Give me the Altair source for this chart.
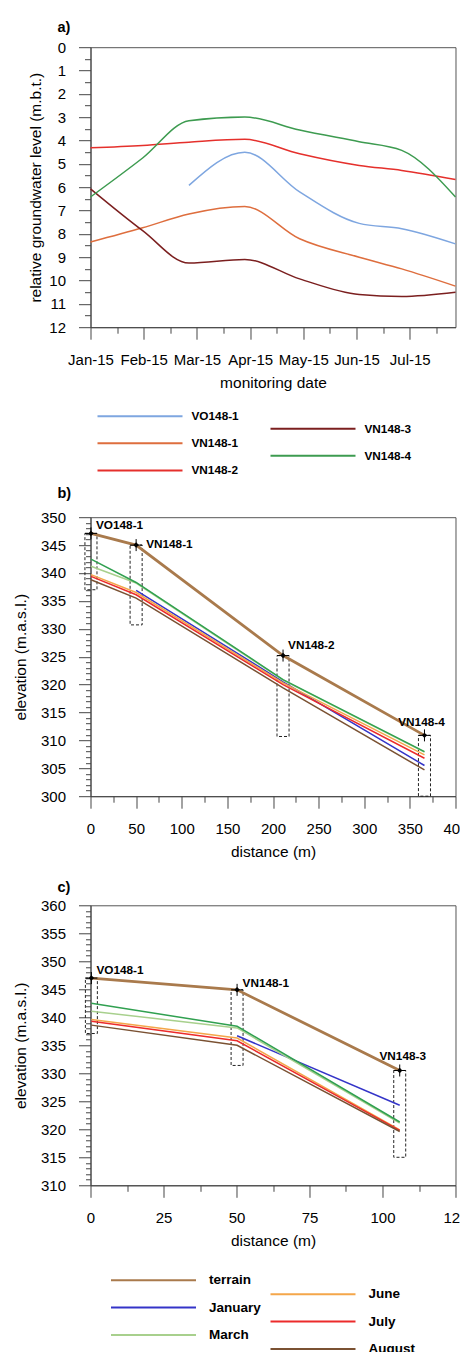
import altair as alt
import pandas as pd

FONT = "Liberation Sans"

# ---------------- panel a: groundwater level over time ----------------
MONTH_LABELS = ["Jan-15", "Feb-15", "Mar-15", "Apr-15", "May-15", "Jun-15", "Jul-15"]
A_TIMES = [0.0, 0.98, 1.85, 2.9, 3.93, 5.05, 5.85, 6.86]  # months after 1 Jan 2015
A_VO148_1 = [None, None, 5.92, 4.50, 6.20, 7.55, 7.78, 8.43]
A_VN148_1 = [8.35, 7.74, 7.15, 6.83, 8.21, 9.00, 9.50, 10.24]
A_VN148_2 = [4.31, 4.21, 4.07, 3.95, 4.57, 5.07, 5.28, 5.67]
A_VN148_3 = [6.07, 7.86, 9.25, 9.10, 9.93, 10.60, 10.68, 10.50]
A_VN148_4 = [6.42, 4.75, 3.15, 2.99, 3.55, 4.05, 4.42, 6.42]
A_LEGEND_1 = ["VO148-1", "VN148-1", "VN148-2"]
A_LEGEND_2 = ["VN148-3", "VN148-4"]
A_COLORS_1 = ["#7ea6e0", "#de6e3e", "#e5302c"]
A_COLORS_2 = ["#7b1f1f", "#3d9b50"]

# ---------------- panel b: profile VO148-1 .. VN148-4 ----------------
B_WELLS = ["VO148-1", "VN148-1", "VN148-2", "VN148-4"]
B_DIST = [0.5, 50.0, 211.0, 366.0]
B_TERRAIN = [347.1, 345.0, 325.2, 310.9]
B_SCREEN_BOTTOM = [337.0, 330.7, 310.7, 300.0]
B_JANUARY = [None, 336.9, 320.5, 305.5]
B_MARCH = [341.2, 338.2, 320.8, 307.9]
B_APRIL = [342.5, 338.3, 320.9, 308.0]
B_JUNE = [339.7, 336.5, 320.3, 307.4]
B_JULY = [339.4, 336.1, 320.0, 306.8]
B_AUGUST = [338.8, 335.5, 319.4, 304.7]

# ---------------- panel c: profile VO148-1 .. VN148-3 ----------------
C_WELLS = ["VO148-1", "VN148-1", "VN148-3"]
C_DIST = [0.3, 50.2, 105.9]
C_TERRAIN = [347.0, 344.9, 330.5]
C_SCREEN_BOTTOM = [337.1, 331.4, 315.0]
C_JANUARY = [None, 336.7, 324.3]
C_MARCH = [341.1, 338.1, 321.1]
C_APRIL = [342.5, 338.4, 321.3]
C_JUNE = [339.6, 336.3, 319.9]
C_JULY = [339.3, 335.8, 319.8]
C_AUGUST = [338.6, 335.0, 319.6]

MONTHS = ["January", "March", "April", "June", "July", "August"]
MONTH_COLORS = ["#3434c8", "#a8d08d", "#30a050", "#f4a64a", "#ec2b2b", "#7a5132"]
TERRAIN_COLOR = "#a97a4c"
C_LEGEND_1 = ["terrain", "January", "March", "April"]
C_LEGEND_2 = ["June", "July", "August"]


# ---------------- helpers ----------------
def long_frame(xs, series_dict, xname, yname):
    rows = []
    for name, vals in series_dict.items():
        for x, v in zip(xs, vals):
            if v is not None:
                rows.append({"series": name, xname: x, yname: v})
    return pd.DataFrame(rows)


def minor_dash(test, length):
    return {"condition": {"test": test, "value": [length, 60]}, "value": []}


def legend(x, y, size, row_pad, label_offset):
    return alt.Legend(
        title=None, orient="none", legendX=x, legendY=y, direction="vertical",
        symbolType="stroke", symbolSize=7225, symbolStrokeWidth=2, clipHeight=16,
        labelOffset=label_offset, labelFontSize=size, labelFontWeight="bold", labelColor="black",
        labelFont=FONT, rowPadding=row_pad, padding=0,
    )


def panel_title(text, offset):
    return alt.TitleParams(text=text, anchor="start", frame="group", dx=-33, offset=offset,
                           fontSize=14.5, fontWeight="bold", font=FONT, color="black")


# ---------------- panel a ----------------
df_a = long_frame(A_TIMES, {"VO148-1": A_VO148_1, "VN148-1": A_VN148_1, "VN148-2": A_VN148_2,
                            "VN148-3": A_VN148_3, "VN148-4": A_VN148_4}, "t", "level")
month_js = "[" + ",".join("'" + m + "'" for m in MONTH_LABELS) + "]"
ax_ax = alt.Axis(title="monitoring date", values=[i * 0.5 for i in range(14)],
                 labelExpr="datum.value % 1 == 0 ? " + month_js + "[datum.value] : ''",
                 tickDash=minor_dash("datum.value % 1 != 0", 6), titlePadding=8)
ax_ay = alt.Axis(title="relative groundwater level (m.b.t.)", values=[i * 0.5 for i in range(25)],
                 labelExpr="datum.value % 1 == 0 ? '' + datum.value : ''",
                 tickDash=minor_dash("datum.value % 1 != 0", 6), titlePadding=5)
xa = alt.X("t:Q", scale=alt.Scale(domain=[0, 6.86], nice=False, zero=False), axis=ax_ax)
ya = alt.Y("level:Q", scale=alt.Scale(domain=[0, 12], nice=False, reverse=True), axis=ax_ay)

a1 = alt.Chart(df_a[df_a.series.isin(A_LEGEND_1)]).mark_line(interpolate="monotone", strokeWidth=1.5).encode(
    x=xa, y=ya,
    color=alt.Color("series:N", scale=alt.Scale(domain=A_LEGEND_1, range=A_COLORS_1),
                    legend=legend(6, 361, 11.8, 11.1, 8)))
a2 = alt.Chart(df_a[df_a.series.isin(A_LEGEND_2)]).mark_line(interpolate="monotone", strokeWidth=1.5).encode(
    x=xa, y=ya,
    color=alt.Color("series:N", scale=alt.Scale(domain=A_LEGEND_2, range=A_COLORS_2),
                    legend=legend(179, 373.5, 11.8, 11.1, 8)))
panel_a = alt.layer(a1, a2).resolve_scale(color="independent").properties(
    width=365, height=280, title=panel_title("a)", 4.3))


# ---------------- profile panels ----------------
def profile_panel(wells, dist, terrain, bottom, gw, xmax, xstep, xmajor, ymin, half_w,
                  label_style, title, toffset, legends, height):
    df_w = pd.DataFrame({"well": wells, "dist": dist, "top": terrain, "bottom": bottom})
    df_g = long_frame(dist, gw, "dist", "elev")
    df_t = pd.DataFrame({"series": "terrain", "dist": dist, "elev": terrain})
    xvals = [i * xstep for i in range(int(round(xmax / xstep)) + 1)]
    axx = alt.Axis(title="distance (m)", values=xvals,
                   tickDash=minor_dash("datum.value % " + str(xmajor) + " != 0", 6),
                   labelExpr="datum.value % " + str(xmajor) + " == 0 ? '' + datum.value : ''",
                   titlePadding=8)
    axy = alt.Axis(title="elevation (m.a.s.l.)", values=list(range(ymin, ymin + 51)),
                   tickDash=minor_dash("datum.value % 5 != 0", 5),
                   labelExpr="datum.value % 5 == 0 ? '' + datum.value : ''", titlePadding=12)
    sx = alt.Scale(domain=[0, xmax], nice=False, zero=False)
    sy = alt.Scale(domain=[ymin, ymin + 50], nice=False, zero=False)

    def X(f):
        return alt.X(f, type="quantitative", scale=sx, axis=axx)

    def Y(f):
        return alt.Y(f, type="quantitative", scale=sy, axis=axy)

    rects = alt.Chart(df_w).transform_calculate(
        x1="datum.dist - " + str(half_w), x2="datum.dist + " + str(half_w)
    ).mark_rect(fillOpacity=0, stroke="#222", strokeDash=[3, 2], strokeWidth=1).encode(
        x=X("x1"), x2="x2:Q", y=Y("top"), y2="bottom:Q")

    terr = alt.Chart(df_t).mark_line(strokeWidth=2.8, color=TERRAIN_COLOR).encode(
        x=X("dist"), y=Y("elev"))
    layers = [rects]
    if legends is None:
        gw_lines = alt.Chart(df_g).mark_line(strokeWidth=1.5).encode(
            x=X("dist"), y=Y("elev"),
            color=alt.Color("series:N", scale=alt.Scale(domain=MONTHS, range=MONTH_COLORS), legend=None))
        layers += [gw_lines, terr]
    else:
        (lx1, ly1), (lx2, ly2) = legends
        col1 = [TERRAIN_COLOR] + [MONTH_COLORS[MONTHS.index(m)] for m in C_LEGEND_1[1:]]
        col2 = [MONTH_COLORS[MONTHS.index(m)] for m in C_LEGEND_2]
        l1 = alt.Chart(df_g[df_g.series.isin(C_LEGEND_1)]).mark_line(strokeWidth=1.5).encode(
            x=X("dist"), y=Y("elev"),
            color=alt.Color("series:N", scale=alt.Scale(domain=C_LEGEND_1, range=col1),
                            legend=legend(lx1, ly1, 13.5, 11.3, 12)))
        l2 = alt.Chart(df_g[df_g.series.isin(C_LEGEND_2)]).mark_line(strokeWidth=1.5).encode(
            x=X("dist"), y=Y("elev"),
            color=alt.Color("series:N", scale=alt.Scale(domain=C_LEGEND_2, range=col2),
                            legend=legend(lx2, ly2, 13.5, 11.3, 12)))
        layers += [l1, l2, terr]

    crosses = alt.Chart(df_w).mark_point(shape="M-1,0H1M0,-1V1", size=144, filled=False, stroke="black",
                                         strokeWidth=1, opacity=1).encode(x=X("dist"), y=Y("top"))
    diamonds = alt.Chart(df_w).mark_point(shape="diamond", size=30, filled=True, color="black",
                                          opacity=1).encode(x=X("dist"), y=Y("top"))
    layers += [crosses, diamonds]
    for w, (align, dx, dy) in label_style.items():
        layers.append(
            alt.Chart(df_w).transform_filter(alt.datum.well == w).mark_text(
                align=align, baseline="middle", dx=dx, dy=dy, fontSize=11.8, fontWeight="bold",
                font=FONT, color="black").encode(x=X("dist"), y=Y("top"), text="well:N"))
    ch = alt.layer(*layers)
    if legends is not None:
        ch = ch.resolve_scale(color="independent")
    return ch.properties(width=365, height=height, title=panel_title(title, toffset))


panel_b = profile_panel(
    B_WELLS, B_DIST, B_TERRAIN, B_SCREEN_BOTTOM,
    {"January": B_JANUARY, "March": B_MARCH, "April": B_APRIL, "June": B_JUNE, "July": B_JULY,
     "August": B_AUGUST},
    400, 25, 50, 300, 6.6,
    {"VO148-1": ("left", 5, -8), "VN148-1": ("left", 10, -1), "VN148-2": ("left", 5, -11),
     "VN148-4": ("center", -3, -13)},
    "b)", 8.7, None, 279)

panel_c = profile_panel(
    C_WELLS, C_DIST, C_TERRAIN, C_SCREEN_BOTTOM,
    {"January": C_JANUARY, "March": C_MARCH, "April": C_APRIL, "June": C_JUNE, "July": C_JULY,
     "August": C_AUGUST},
    125, 12.5, 25, 310, 2.05,
    {"VO148-1": ("left", 5, -8.5), "VN148-1": ("left", 5.5, -7), "VN148-3": ("center", 3, -14)},
    "c)", 2.5, ((19.5, 367), (179, 381)), 280)

top_part = alt.vconcat(panel_a, panel_b, spacing=5)
chart = alt.vconcat(top_part, panel_c, spacing=19.1).properties(
    padding={"left": 4.5, "top": 11.2, "right": -10, "bottom": -19}
).configure(font=FONT).configure_axis(
    labelFontSize=15, titleFontSize=15.5, titleFontWeight="normal", labelColor="black",
    titleColor="black", domainColor="#444", tickColor="#444", tickSize=12, labelPadding=13,
    grid=False, labelFont=FONT, titleFont=FONT, labelOverlap=False, labelFlush=False,
).configure_view(stroke="#555", strokeWidth=1)

chart.save("out.html", embed_options={"renderer": "svg", "actions": False})
